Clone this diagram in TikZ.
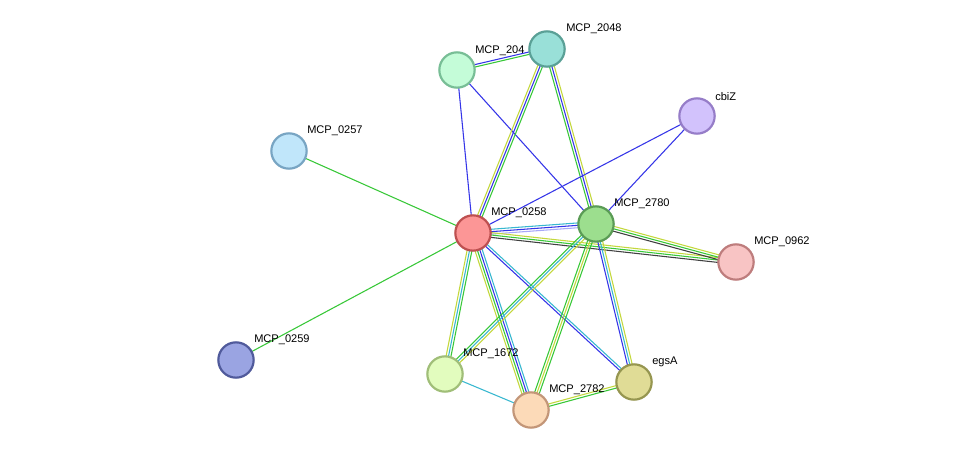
\documentclass[tikz,border=0pt]{standalone}
\usepackage{fontspec}
\setmainfont{Liberation Sans}
\usetikzlibrary{calc}
\definecolor{eb}{HTML}{3535E8}
\definecolor{eg}{HTML}{38C838}
\definecolor{ey}{HTML}{C4D83C}
\definecolor{ec}{HTML}{38B8D0}
\definecolor{el}{HTML}{A8A8F8}
\definecolor{ek}{HTML}{404040}
\tikzset{
 prot/.style={circle,minimum size=26.5pt,inner sep=0pt,line width=1.65pt},
 lab/.style={anchor=south west,inner sep=0pt,font=\fontsize{8.3pt}{9pt}\selectfont},
 edge/.style={line width=0.8pt}
}
\newcommand{\bund}[3]{%
 \def\n{0}\foreach \c in {#3}{\xdef\n{\the\numexpr\n+1\relax}}%
 \foreach \c [count=\i] in {#3}{%
  \pgfmathsetmacro{\o}{(\i-1-(\n-1)/2)*1.8}%
  \draw[edge,\c] ($(#1)!\o pt!90:(#2)$) -- ($(#2)!\o pt!-90:(#1)$);%
 }}
\begin{document}
\begin{tikzpicture}[x=0.75pt,y=-0.75pt]
\useasboundingbox[fill=white] (0,0) rectangle (976,456);
\coordinate (a2048) at (547,49);
\coordinate (a2049) at (457,70);
\coordinate (cbiZ) at (697,116);
\coordinate (a0257) at (289,151);
\coordinate (a0258) at (473,233);
\coordinate (a2780) at (596,224);
\coordinate (a0962) at (736,262);
\coordinate (a0259) at (236,360);
\coordinate (a1672) at (445,374);
\coordinate (egsA) at (634,382);
\coordinate (a2782) at (531,410);
\bund{a2049}{a2048}{eg,eb}
\bund{a2049}{a0258}{eb}
\bund{a2049}{a2780}{eb}
\bund{a2048}{a0258}{ey,eb,eg}
\bund{a2048}{a2780}{eg,eb,ey}
\bund{cbiZ}{a0258}{eb}
\bund{cbiZ}{a2780}{eb}
\bund{a0257}{a0258}{eg}
\bund{a0259}{a0258}{eg}
\bund{a0258}{a2780}{el,eb,ec}
\bund{a0258}{a0962}{ek,eg,ey}
\bund{a2780}{a0962}{ek,eg,ey}
\bund{a0258}{a1672}{ey,ec,eg}
\bund{a0258}{a2782}{ey,eg,eb,ec}
\bund{a0258}{egsA}{eb,ec}
\bund{a2780}{a1672}{eg,ec,ey}
\bund{a2780}{a2782}{eg,ey,eg}
\bund{a2780}{egsA}{eb,ec,ey}
\bund{a1672}{a2782}{ec}
\bund{a2782}{egsA}{eg,ey}
\node[lab] (l2049) at ($(a2049)+(18,-14)$) {MCP\_204};
\node[lab] (l2048) at ($(a2048)+(19,-15)$) {MCP\_2048};
\node[lab] (lcbiZ) at ($(cbiZ)+(18,-15)$) {cbiZ};
\node[lab] (l0257) at ($(a0257)+(18,-15)$) {MCP\_0257};
\node[lab] (l0258) at ($(a0258)+(18,-15)$) {MCP\_0258};
\node[lab] (l2780) at ($(a2780)+(18,-15)$) {MCP\_2780};
\node[lab] (l0962) at ($(a0962)+(18,-15)$) {MCP\_0962};
\node[lab] (l0259) at ($(a0259)+(18,-15)$) {MCP\_0259};
\node[lab] (l1672) at ($(a1672)+(18,-15)$) {MCP\_1672};
\node[lab] (legsA) at ($(egsA)+(18,-15)$) {egsA};
\node[lab] (l2782) at ($(a2782)+(18,-15)$) {MCP\_2782};
\node[prot,fill={rgb,255:red,153;green,224;blue,216},draw={rgb,255:red,90;green,160;blue,150}] (n2048) at (a2048) {};
\node[prot,fill={rgb,255:red,196;green,252;blue,216},draw={rgb,255:red,120;green,190;blue,150}] (n2049) at (a2049) {};
\node[prot,fill={rgb,255:red,210;green,194;blue,252},draw={rgb,255:red,150;green,125;blue,200}] (ncbiZ) at (cbiZ) {};
\node[prot,fill={rgb,255:red,192;green,230;blue,250},draw={rgb,255:red,120;green,165;blue,195}] (n0257) at (a0257) {};
\node[prot,fill={rgb,255:red,252;green,150;blue,150},draw={rgb,255:red,190;green,80;blue,80}] (n0258) at (a0258) {};
\node[prot,fill={rgb,255:red,156;green,222;blue,142},draw={rgb,255:red,90;green,155;blue,85}] (n2780) at (a2780) {};
\node[prot,fill={rgb,255:red,248;green,196;blue,196},draw={rgb,255:red,190;green,125;blue,125}] (n0962) at (a0962) {};
\node[prot,fill={rgb,255:red,154;green,164;blue,226},draw={rgb,255:red,80;green,90;blue,155}] (n0259) at (a0259) {};
\node[prot,fill={rgb,255:red,226;green,252;blue,190},draw={rgb,255:red,160;green,190;blue,120}] (n1672) at (a1672) {};
\node[prot,fill={rgb,255:red,224;green,220;blue,150},draw={rgb,255:red,150;green,150;blue,80}] (negsA) at (egsA) {};
\node[prot,fill={rgb,255:red,252;green,218;blue,184},draw={rgb,255:red,195;green,150;blue,120}] (n2782) at (a2782) {};
\end{tikzpicture}
\end{document}
